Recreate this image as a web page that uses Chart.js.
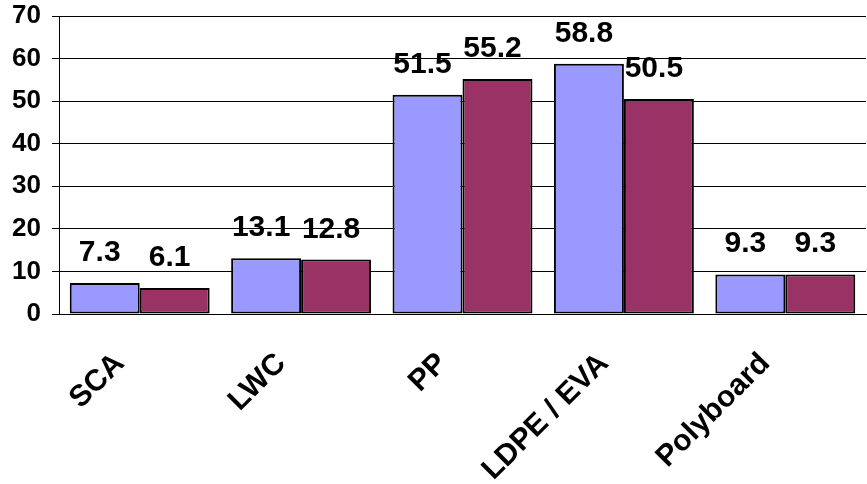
<!DOCTYPE html>
<html>
<head>
<meta charset="utf-8">
<script src="https://cdn.jsdelivr.net/npm/chart.js@4"></script>
<style>
  html, body { margin: 0; padding: 0; background: #fff; }
</style>
</head>
<body>
<canvas id="BarChart" width="867" height="484"></canvas>
<script>
const categories = ['SCA', 'LWC', 'PP', 'LDPE / EVA', 'Polyboard'];
const seriesA = [7.3, 13.1, 51.5, 58.8, 9.3];
const seriesB = [6.1, 12.8, 55.2, 50.5, 9.3];
const yMin = 0, yMax = 70, yStep = 10;

const fontFamily = '"Liberation Sans", Arial, sans-serif';

// values above each bar
const valueLabels = {
  id: 'valueLabels',
  afterDatasetsDraw(chart) {
    const ctx = chart.ctx;
    ctx.save();
    ctx.font = 'bold 30px ' + fontFamily;
    ctx.fillStyle = '#000';
    ctx.textAlign = 'center';
    ctx.textBaseline = 'alphabetic';
    chart.data.datasets.forEach(function (ds, i) {
      chart.getDatasetMeta(i).data.forEach(function (bar, j) {
        ctx.fillText(ds.data[j].toFixed(1), bar.x - 5, bar.y - 22);
      });
    });
    ctx.restore();
  }
};

const ctx = document.getElementById('BarChart');

const BarChart = new Chart(ctx, {
  type: 'bar',
  data: {
    labels: categories,
    datasets: [{
      data: seriesA,
      backgroundColor: '#9999FF',
      borderColor: '#000',
      borderWidth: 2,
      borderSkipped: false
    }, {
      data: seriesB,
      backgroundColor: '#993366',
      borderColor: '#000',
      borderWidth: 2,
      borderSkipped: false
    }]
  },
  options: {
    responsive: false,
    animation: false,
    devicePixelRatio: 1,
    layout: { padding: { top: 16, right: 1, left: 0, bottom: 0 } },
    plugins: {
      legend: { display: false },
      tooltip: { enabled: false }
    },
    datasets: {
      bar: { categoryPercentage: 0.867, barPercentage: 1.0 }
    },
    scales: {
      x: {
        grid: { display: false },
        border: { display: true, color: '#000', width: 1 },
        ticks: {
          color: '#000',
          font: { family: fontFamily, size: 30, weight: 'bold' },
          minRotation: 45,
          maxRotation: 45,
          padding: 24,
          labelOffset: -20
        },
        afterFit(scale) {
          scale.height = 170;
          scale.paddingLeft = 0;
          scale.paddingRight = 0;
        }
      },
      y: {
        min: yMin,
        max: yMax,
        grid: { color: '#000', lineWidth: 1, tickLength: 7 },
        border: { display: true, color: '#000', width: 1 },
        ticks: {
          stepSize: yStep,
          color: '#000',
          padding: 11,
          font: { family: fontFamily, size: 26, weight: 'bold' }
        },
        afterFit(scale) {
          scale.width = 59;
          scale.paddingTop = 0;
          scale.paddingBottom = 0;
        }
      }
    }
  },
  plugins: [valueLabels]
});
</script>
</body>
</html>
